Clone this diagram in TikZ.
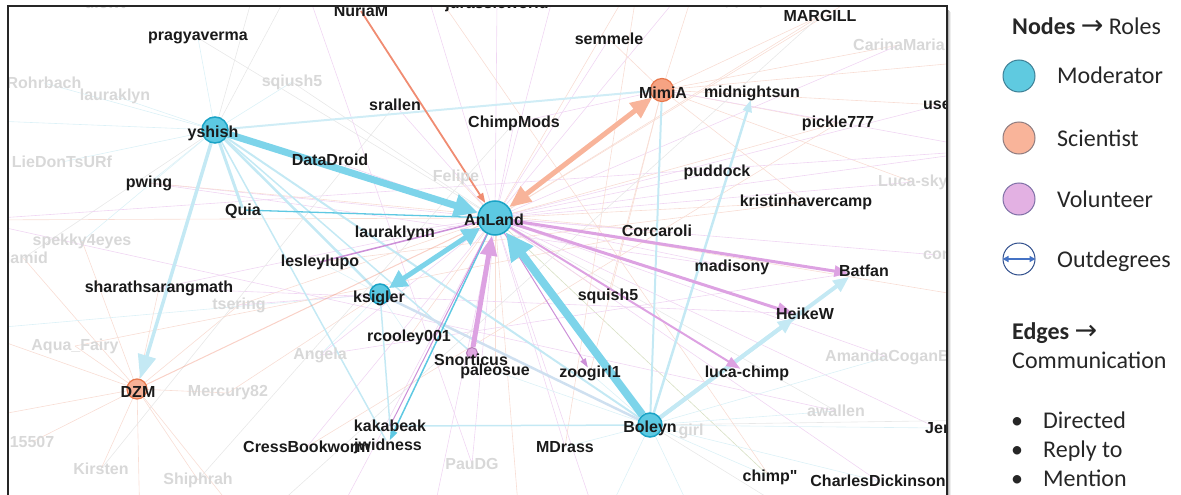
\documentclass[tikz,border=0pt]{standalone}
\usepackage{fontspec}
\setmainfont{Liberation Sans}
\newfontfamily\rawsans{Liberation Sans}[Ligatures=TeXOff]
\newfontfamily\legfont{Carlito}
\newfontfamily\symfont{DejaVu Sans}
\newcommand\legarrowfont{\symfont\mdseries\fontsize{27pt}{30pt}\selectfont}
\usetikzlibrary{arrows.meta}
\pgfdeclarelayer{edgelayer}
\pgfsetlayers{edgelayer,main}

% vertex colours
\definecolor{modfill}{HTML}{5CC9E2}
\definecolor{moddraw}{HTML}{1AA3C6}
\definecolor{scifill}{HTML}{F6A383}
\definecolor{scidraw}{HTML}{E8784C}
\definecolor{volfill}{HTML}{E0A8E2}
\definecolor{voldraw}{HTML}{B57AB8}
% edge colours
\definecolor{cyE}{HTML}{7DD4EA}
\definecolor{cyM}{HTML}{5EC8E2}
\definecolor{cyL}{HTML}{C4E9F4}
\definecolor{lavL}{HTML}{CFE0F0}
\definecolor{saE}{HTML}{F8B49A}
\definecolor{orE}{HTML}{F08C72}
\definecolor{piE}{HTML}{DDA2E2}
\definecolor{piM}{HTML}{CC90D8}
\definecolor{fP}{HTML}{F0D6F3}
\definecolor{fS}{HTML}{F8DDD4}
\definecolor{fC}{HTML}{DCF1F7}
\definecolor{fG}{HTML}{E8E8E8}
\definecolor{fO}{HTML}{D8E0C4}
% text colours
\definecolor{lblack}{HTML}{1A1A1A}
\definecolor{fadetxt}{HTML}{D8D8D8}
\definecolor{legtxt}{HTML}{262626}
% legend colours
\definecolor{lgModF}{HTML}{5FCAE0}
\definecolor{lgModD}{HTML}{3D7F95}
\definecolor{lgSciF}{HTML}{F9B49A}
\definecolor{lgSciD}{HTML}{8E7B7E}
\definecolor{lgVolF}{HTML}{E3B1E3}
\definecolor{lgVolD}{HTML}{7E6FA6}
\definecolor{lgOutD}{HTML}{2F4E8C}
\definecolor{lgOutA}{HTML}{4472C4}

\tikzset{
  lab/.style={font=\bfseries\fontsize{16pt}{18pt}\selectfont, text=lblack, inner sep=0pt},
  fade/.style={font=\bfseries\fontsize{16pt}{18pt}\selectfont, text=fadetxt, inner sep=0pt},
  vmod/.style={circle, fill=modfill, draw=moddraw, line width=1.5pt, inner sep=0pt},
  vsci/.style={circle, fill=scifill, draw=scidraw, line width=1.2pt, inner sep=0pt},
  vvol/.style={circle, fill=volfill, draw=voldraw, line width=1pt, inner sep=0pt},
  vhid/.style={circle, inner sep=0pt},
  faint/.style={line width=0.6pt},
  legtext/.style={font=\legfont\fontsize{24pt}{28pt}\selectfont, text=legtxt, inner sep=0pt},
  legdot/.style={circle, minimum size=32pt, inner sep=0pt, line width=1pt},
}

\begin{document}
\begin{tikzpicture}[x=1pt, y=-1pt]
\useasboundingbox (0,0) rectangle (1181,495);

% ---------- frame with a soft shadow on the right ----------
\draw[black!30, line width=1pt] (948.5,10) -- (948.5,495);
\draw[black!16, line width=1pt] (949.5,11) -- (949.5,495);
\draw[black!7, line width=1pt] (950.5,12) -- (950.5,495);

\begin{scope}
\clip (8,6) rectangle (947,495);

% ---------- visible vertices ----------
\node[vmod, minimum size=34pt] (AnLand) at (495,218) {};
\node[vmod, minimum size=26pt] (yshish) at (215,130) {};
\node[vsci, minimum size=23pt] (MimiA) at (662,90) {};
\node[vmod, minimum size=20pt] (ksigler) at (380,294) {};
\node[vsci, minimum size=20pt, fill=scifill!85] (DZM) at (137,389) {};
\node[vmod, minimum size=24pt] (Boleyn) at (650,425) {};
\node[vvol, minimum size=11pt] (Snorticus) at (472,353) {};

% ---------- unmarked end points of arrows ----------
\node[vhid, minimum size=9pt] (vBatfan) at (853,274) {};
\node[vhid, minimum size=10pt] (vHeikeW) at (798,315) {};
\node[vhid, minimum size=8pt] (vLuca) at (744,371) {};
\node[vhid, minimum size=8pt] (vMidnight) at (752,96) {};
\node[vhid, minimum size=8pt] (vJwid) at (388,444) {};
\node[vhid, minimum size=8pt] (vZoo) at (590,371) {};
\node[vhid, minimum size=4pt] (vQuia) at (243,210) {};

% ---------- pale labels ----------
\node[fade] (ulcwt) at (105,3) {ulcwt};
\node[fade] (Rohrbach) at (44,83) {Rohrbach};
\node[fade] (lauraklyn) at (115,96) {lauraklyn};
\node[fade] (sqiush5) at (292,82) {sqiush5};
\node[fade] (LieDonTsURf) at (62,162) {LieDonTsURf};
\node[fade] (spekky4eyes) at (82,241) {spekky4eyes};
\node[fade, anchor=east] (Hamid) at (48,258) {Hamid};
\node[fade] (tsering) at (239,305) {tsering};
\node[fade] (AquaFairy) at (75,346) {Aqua\_Fairy};
\node[fade] (Mercury82) at (228,393) {Mercury82};
\node[fade] (Angela) at (320,355) {Angela};
\node[fade] (n15507) at (32,442) {15507};
\node[fade] (Kirsten) at (101,469) {Kirsten};
\node[fade] (Shiphrah) at (198,480) {Shiphrah};
\node[fade] (PauDG) at (472,464) {PauDG};
\node[fade] (Felipe) at (456,177) {Felipe};
\node[fade, anchor=west] (CarinaMaria) at (853,45) {CarinaMaria};
\node[fade, anchor=west] (Lucasky) at (878,182) {Luca-sky};
\node[fade, anchor=west] (con) at (923,255) {con};
\node[fade, anchor=west] (AmandaCoganB) at (825,357) {AmandaCoganB};
\node[fade] (awallen) at (836,411) {awallen};
\node[fade] (girl) at (691,431) {girl};

% ---------- labels ----------
\node[lab] (pragyaverma) at (198,38) {pragyaverma};
\node[lab] (NuriaM) at (361,11) {NuriaM};
\node[lab] (jurassicworld) at (497,4) {jurassicworld};
\node[lab] (Jomo) at (762,2) {Jomo2127};
\node[lab] (MARGILL) at (820,16) {MARGILL};
\node[lab] (semmele) at (609,39) {semmele};
\node[lab] (srallen) at (395,105) {srallen};
\node[lab] (ChimpMods) at (514,123) {ChimpMods};
\node[lab] (MimiAt) at (663,93) {MimiA};
\node[lab] (midnightsun) at (752,93) {midnightsun};
\node[lab] (pickle777) at (838,123) {pickle777};
\node[lab, anchor=west] (user) at (923,105) {user};
\node[lab] (yshisht) at (213,133) {yshish};
\node[lab] (DataDroid) at (330,160) {DataDroid};
\node[lab] (pwing) at (149,183) {pwing};
\node[lab] (puddock) at (717,172) {puddock};
\node[lab] (Quia) at (243,211) {Quia};
\node[lab] (AnLandt) at (494,220) {AnLand};
\node[lab] (kristinhavercamp) at (806,202) {kristinhavercamp};
\node[lab] (lauraklynn) at (395,233) {lauraklynn};
\node[lab] (Corcaroli) at (657,231) {Corcaroli};
\node[lab] (lesleylupo) at (320,262) {lesleylupo};
\node[lab] (madisony) at (732,267) {madisony};
\node[lab] (Batfan) at (864,271) {Batfan};
\node[lab] (sharathsarangmath) at (159,288) {sharathsarangmath};
\node[lab] (ksiglert) at (379,298) {ksigler};
\node[lab] (squish5) at (608,296) {squish5};
\node[lab] (HeikeW) at (805,314) {HeikeW};
\node[lab] (rcooley001) at (409,337) {rcooley001};
\node[lab] (Snorticust) at (471,360) {Snorticus};
\node[lab] (paleosue) at (495,371) {paleosue};
\node[lab] (zoogirl1) at (590,373) {zoogirl1};
\node[lab] (lucachimp) at (747,373) {luca-chimp};
\node[lab] (DZMt) at (138,392) {DZM};
\node[lab] (kakabeak) at (390,426) {kakabeak};
\node[lab, anchor=west] (CressBookworm) at (243,447) {CressBookworm};
\node[lab] (jwidness) at (388,446) {jwidness};
\node[lab] (MDrass) at (565,447) {MDrass};
\node[lab] (Boleynt) at (650,428) {Boleyn};
\node[lab] (chimpq) at (770,477) {\rawsans\bfseries chimp"};
\node[lab] (CharlesDickinson) at (878,481) {CharlesDickinson};
\node[lab, anchor=west] (Jer) at (925,428) {Jer};
\end{scope}

% ---------- free ends of edges leaving the frame ----------
\coordinate (o1) at (420,-30);
\coordinate (o2) at (560,-30);
\coordinate (o3) at (640,-30);
\coordinate (o4) at (700,-30);
\coordinate (o5) at (300,-30);
\coordinate (o6) at (260,-30);
\coordinate (o7) at (900,-30);
\coordinate (b1) at (140,530);
\coordinate (b2) at (250,530);
\coordinate (b3) at (330,530);
\coordinate (b4) at (430,530);
\coordinate (b5) at (520,530);
\coordinate (b6) at (600,530);
\coordinate (b7) at (700,530);
\coordinate (b8) at (820,530);
\coordinate (l1) at (-30,120);
\coordinate (l2) at (-30,220);
\coordinate (l3) at (-30,330);
\coordinate (l4) at (-30,420);
\coordinate (r1) at (990,60);
\coordinate (r2) at (990,150);
\coordinate (r3) at (990,300);
\coordinate (r4) at (990,420);

% ---------- edges ----------
\begin{pgfonlayer}{edgelayer}
\clip (8,6) rectangle (947,495);

% pale background edges
\foreach \a/\b/\c in {
  AnLand/pragyaverma/fG, AnLand/jurassicworld/fP, AnLand/semmele/fP, AnLand/o1/fP,
  AnLand/o2/fP, AnLand/o3/fS, AnLand/o4/fP, AnLand/MARGILL/fS, AnLand/ChimpMods/fP,
  AnLand/srallen/fP, AnLand/sqiush5/fG, AnLand/CarinaMaria/fP, AnLand/user/fP,
  AnLand/pickle777/fS, AnLand/puddock/fP, AnLand/kristinhavercamp/fS, AnLand/Lucasky/fP,
  AnLand/con/fP, AnLand/Corcaroli/fP, AnLand/madisony/fP, AnLand/squish5/fS,
  AnLand/AmandaCoganB/fP, AnLand/awallen/fG, AnLand/chimpq/fO, AnLand/CharlesDickinson/fP,
  AnLand/MDrass/fP, AnLand/PauDG/fP, AnLand/b4/fP, AnLand/b5/fS, AnLand/b6/fP,
  AnLand/rcooley001/fS, AnLand/CressBookworm/fP, AnLand/Mercury82/fS, AnLand/Angela/fP,
  AnLand/tsering/fS, AnLand/sharathsarangmath/fP, AnLand/pwing/fP, AnLand/DataDroid/fP,
  AnLand/lauraklynn/fP, AnLand/l2/fS, AnLand/Jer/fP, AnLand/Felipe/fS, AnLand/o7/fS,
  AnLand/r2/fP, AnLand/r3/fS, AnLand/b3/fP, AnLand/paleosue/fS,
  DZM/AquaFairy/fS, DZM/l3/fS, DZM/l4/fS, DZM/n15507/fS, DZM/Kirsten/fS, DZM/b1/fS,
  DZM/Shiphrah/fS, DZM/b2/fS, DZM/Mercury82/fS, DZM/tsering/fS, DZM/spekky4eyes/fS,
  DZM/Hamid/fS, DZM/sharathsarangmath/fS,
  yshish/Rohrbach/fC, yshish/lauraklyn/fC, yshish/LieDonTsURf/fC, yshish/l1/fC,
  yshish/pragyaverma/fC, yshish/sqiush5/fC, yshish/pwing/fC, yshish/o6/fG,
  yshish/spekky4eyes/fC, yshish/Hamid/fG, yshish/o5/fG,
  MimiA/semmele/fS, MimiA/MARGILL/fS, MimiA/o4/fS, MimiA/CarinaMaria/fS, MimiA/r1/fS,
  MimiA/user/fS, MimiA/pickle777/fS, MimiA/kristinhavercamp/fS, MimiA/Lucasky/fS,
  MimiA/squish5/fS, MimiA/zoogirl1/fS, MimiA/ChimpMods/fP, MimiA/r2/fP,
  Boleyn/chimpq/fC, Boleyn/CharlesDickinson/fC, Boleyn/MDrass/fC, Boleyn/b6/fC,
  Boleyn/b7/fC, Boleyn/awallen/fC, Boleyn/Jer/fC, Boleyn/zoogirl1/fC, Boleyn/paleosue/fC,
  Boleyn/AmandaCoganB/fC, Boleyn/b8/fG, Boleyn/r4/fG,
  ksigler/lesleylupo/fC, ksigler/rcooley001/fC, ksigler/Angela/fC, ksigler/l3/fC,
  ksigler/tsering/fP, pwing/madisony/fP, l2/r2/fP, pwing/Corcaroli/fS,
  sharathsarangmath/HeikeW/fP, lesleylupo/kristinhavercamp/fS, Angela/Batfan/fP,
  MDrass/o3/fS, CressBookworm/pickle777/fS, Shiphrah/ChimpMods/fG, Kirsten/srallen/fG,
  AquaFairy/Corcaroli/fS, chimpq/o1/fS, PauDG/o5/fP, awallen/l2/fP, b2/MARGILL/fG}
  \draw[faint, draw=\c] (\a.center) -- (\b.center);

% lighter coloured edges
\draw[cyL, line width=3pt] (yshish) -- (vQuia);
\draw[cyL, line width=2.5pt] (yshish) -- (ksigler);
\draw[cyL, line width=2pt] (yshish) -- (Boleyn);
\draw[cyL!80, line width=2pt] (yshish) -- (MimiA);
\draw[cyL, line width=1.5pt] (yshish) -- (vJwid);
\draw[cyL, line width=1.5pt] (yshish) -- (Snorticus);
\draw[lavL, line width=2.5pt] (ksigler) -- (Boleyn);
\draw[cyL, line width=1.5pt] (Boleyn) -- (kakabeak.center);
\draw[cyL, line width=1.5pt] (ksigler) -- (kakabeak.center);
\draw[cyL, line width=2pt] (MimiA) -- (Boleyn);
\draw[cyL, line width=2.5pt, -{Triangle[length=12pt,width=9pt]}] (Boleyn) -- (vMidnight);
\draw[cyL, line width=4pt, -{Triangle[length=16pt,width=13pt]}] (Boleyn) -- (vHeikeW);
\draw[cyL, line width=4pt, -{Triangle[length=16pt,width=13pt]}] (Boleyn) -- (vBatfan);
\draw[cyM, line width=1.3pt] (vQuia) -- (AnLand);
\draw[piM, line width=1.5pt] (lesleylupo.center) -- (AnLand);
\draw[cyM, line width=1.5pt, -{Triangle[length=10pt,width=7pt]}] (AnLand) -- (vJwid);
\draw[piM, line width=1pt] (AnLand) -- (kakabeak.center);
\draw[piM, line width=1pt, -{Triangle[length=9pt,width=6pt]}] (AnLand) -- (vZoo);
\draw[orE, line width=1pt, opacity=0.4] (DZM) -- (AnLand);
\draw[cyL, line width=3.5pt, -{Triangle[length=24pt,width=18pt]}] (yshish) -- (DZM);

% pink edges leaving AnLand
\draw[piE, line width=3pt, -{Triangle[length=14pt,width=11pt]}] (AnLand) -- (vBatfan);
\draw[piE, line width=3pt, -{Triangle[length=16pt,width=12pt]}] (AnLand) -- (vHeikeW);
\draw[piE, line width=2pt, -{Triangle[length=14pt,width=10pt]}] (AnLand) -- (vLuca);

% heavy edges
\draw[orE, line width=1.8pt, -{Triangle[length=10pt,width=7pt]}] (NuriaM.center) -- (AnLand);
\draw[piE, line width=5pt, -{Triangle[length=20pt,width=16pt]}] (Snorticus) -- (AnLand);
\draw[saE, line width=5pt, {Triangle[length=22pt,width=18pt]}-{Triangle[length=22pt,width=18pt]}] (AnLand) -- (MimiA);
\draw[cyE, line width=5pt, {Triangle[length=18pt,width=18pt]}-{Triangle[length=18pt,width=18pt]}] (ksigler) -- (AnLand);
\draw[cyE, line width=7pt, -{Triangle[length=24pt,width=22pt]}] (yshish) -- (AnLand);
\draw[cyE, line width=8pt, -{Triangle[length=28pt,width=26pt]}] (Boleyn) -- (AnLand);
\end{pgfonlayer}

% frame drawn over the graph
\draw[black!85, line width=1.3pt] (8,500) -- (8,6) -- (947,6) -- (947,500);

% ---------- legend ----------
\node[legtext, anchor=base west] (legNodes) at (1012,35)
  {\bfseries Nodes {\legarrowfont →} \mdseries Roles};
\node[legdot, fill=lgModF, draw=lgModD] (legMod) at (1019,76) {};
\node[legdot, fill=lgSciF, draw=lgSciD] (legSci) at (1019,138) {};
\node[legdot, fill=lgVolF, draw=lgVolD] (legVol) at (1019,199) {};
\node[legdot, fill=white, draw=lgOutD] (legOut) at (1019,259) {};
\draw[lgOutA, line width=1.3pt, {Triangle[length=6pt,width=6pt]}-{Triangle[length=6pt,width=6pt]}]
  (legOut.west) -- (legOut.east);
\node[legtext, anchor=base west] (legModT) at (1057,84) {Moderator};
\node[legtext, anchor=base west] (legSciT) at (1057,146) {Scientist};
\node[legtext, anchor=base west] (legVolT) at (1057,207) {Volunteer};
\node[legtext, anchor=base west] (legOutT) at (1057,267) {Outdegrees};

\node[legtext, anchor=base west] (legEdges) at (1012,339)
  {\bfseries Edges {\legarrowfont →}};
\node[legtext, anchor=base west] (legComm) at (1012,368) {Communication};
\node[legtext, anchor=base] (bul1) at (1017,428) {•};
\node[legtext, anchor=base] (bul2) at (1017,457) {•};
\node[legtext, anchor=base] (bul3) at (1017,486) {•};
\node[legtext, anchor=base west] (legDir) at (1043,428) {Directed};
\node[legtext, anchor=base west] (legRep) at (1043,457) {Reply to};
\node[legtext, anchor=base west] (legMen) at (1043,486) {Mention};
\end{tikzpicture}
\end{document}
